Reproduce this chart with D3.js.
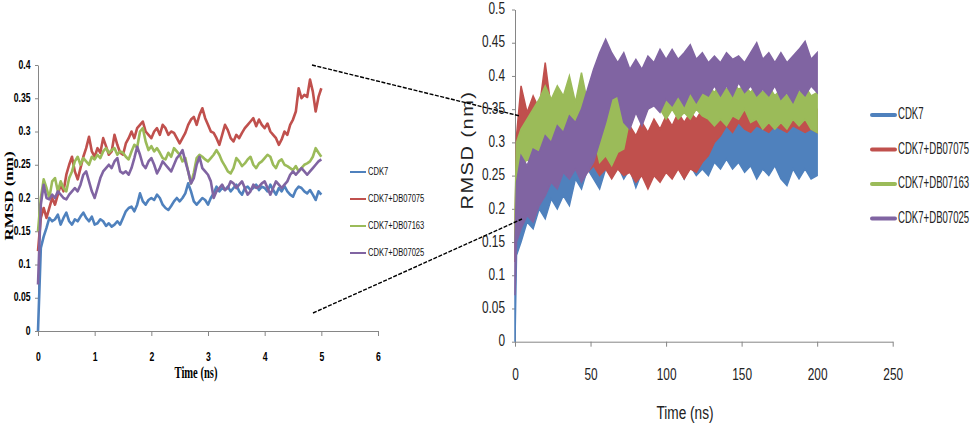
<!DOCTYPE html>
<html><head><meta charset="utf-8">
<script src="https://cdn.jsdelivr.net/npm/d3@7"></script>
<style>body{margin:0;background:#fff} svg{display:block}</style>
</head><body><svg id="c" width="974" height="428"></svg>
<script>
// ---------- data ----------
const seriesNames = ["CDK7","CDK7+DB07075","CDK7+DB07163","CDK7+DB07025"];
const seriesColors = ["#4F81BD","#C0504D","#9BBB59","#8064A2"];

// Left (inset) chart: 0-5 ns
const leftSpan = 5;
const leftBlue = [0.0,
 0.125,0.142,0.155,0.17,0.165, 0.168,0.175,0.16,0.17,0.178, 0.165,0.16,0.168,0.165,0.172, 0.178,0.17,0.165,0.172,0.16,
 0.162,0.168,0.165,0.158,0.162, 0.157,0.16,0.165,0.16,0.17, 0.18,0.185,0.187,0.18,0.19, 0.207,0.195,0.19,0.197,0.2,
 0.197,0.205,0.2,0.19,0.185, 0.182,0.188,0.195,0.2,0.195, 0.2,0.207,0.222,0.21,0.195, 0.19,0.195,0.2,0.197,0.19,
 0.2,0.207,0.217,0.21,0.215, 0.212,0.217,0.21,0.215,0.22, 0.21,0.205,0.215,0.217,0.212, 0.215,0.22,0.212,0.217,0.215,
 0.21,0.22,0.212,0.205,0.215, 0.21,0.218,0.21,0.205,0.202, 0.212,0.217,0.215,0.21,0.207, 0.212,0.205,0.197,0.21,0.205];
const leftRed = [0.12,
 0.17,0.185,0.17,0.185,0.2, 0.19,0.205,0.22,0.21,0.235, 0.25,0.262,0.24,0.228,0.245, 0.262,0.275,0.292,0.27,0.262,
 0.275,0.268,0.29,0.278,0.265, 0.27,0.295,0.28,0.268,0.265, 0.282,0.29,0.3,0.29,0.305, 0.31,0.315,0.3,0.295,0.29,
 0.3,0.305,0.295,0.31,0.305, 0.295,0.3,0.298,0.29,0.282, 0.29,0.298,0.31,0.318,0.322, 0.31,0.325,0.335,0.32,0.31,
 0.3,0.298,0.29,0.28,0.295, 0.31,0.302,0.29,0.285,0.295, 0.29,0.298,0.305,0.31,0.315, 0.32,0.308,0.318,0.31,0.305,
 0.312,0.3,0.295,0.29,0.28, 0.288,0.3,0.295,0.31,0.318, 0.33,0.365,0.35,0.355,0.352, 0.378,0.36,0.33,0.352,0.365];
const leftGreen = [0.15,
 0.2,0.228,0.215,0.2,0.225, 0.23,0.21,0.225,0.215,0.21, 0.23,0.24,0.255,0.262,0.25, 0.26,0.255,0.25,0.262,0.258,
 0.265,0.26,0.27,0.275,0.268, 0.272,0.275,0.265,0.27,0.268, 0.262,0.258,0.27,0.28,0.276, 0.3,0.305,0.285,0.272,0.278,
 0.27,0.275,0.268,0.26,0.258, 0.268,0.262,0.275,0.27,0.265, 0.255,0.26,0.24,0.222,0.238, 0.26,0.265,0.262,0.258,0.255,
 0.26,0.265,0.272,0.265,0.255, 0.248,0.24,0.237,0.245,0.26, 0.255,0.248,0.252,0.258,0.262, 0.25,0.245,0.252,0.255,0.26,
 0.265,0.262,0.25,0.245,0.255, 0.258,0.25,0.248,0.245,0.242, 0.248,0.24,0.245,0.25,0.252, 0.255,0.262,0.275,0.268,0.262];
const leftPurple = [0.07,
 0.19,0.22,0.2,0.198,0.205, 0.2,0.21,0.205,0.2,0.198, 0.205,0.21,0.215,0.21,0.22, 0.235,0.24,0.225,0.21,0.2,
 0.215,0.23,0.24,0.245,0.25, 0.245,0.255,0.26,0.24,0.237, 0.24,0.235,0.245,0.26,0.277, 0.265,0.25,0.245,0.255,0.26,
 0.25,0.237,0.245,0.255,0.25, 0.245,0.24,0.25,0.26,0.265, 0.272,0.255,0.24,0.222,0.23, 0.25,0.262,0.245,0.24,0.235,
 0.225,0.2,0.21,0.215,0.22, 0.212,0.215,0.225,0.222,0.215, 0.22,0.225,0.215,0.205,0.21, 0.22,0.215,0.217,0.222,0.225,
 0.215,0.205,0.215,0.225,0.22, 0.215,0.22,0.225,0.235,0.24, 0.235,0.24,0.245,0.24,0.235, 0.24,0.245,0.25,0.255,0.258];
const leftXTicks = [0,1,2,3,4,5,6];
const leftYTicks = [0,0.05,0.1,0.15,0.2,0.25,0.3,0.35,0.4];
const leftYLabels = ["0","0.05","0.1","0.15","0.2","0.25","0.3","0.35","0.4"];

// Right (main) chart: 0-200 ns, fluctuation band (low / high envelope) per series
const rightTime = [0,1,4,8,12,16,20,24,28,32,36,40,44,48,52,56,60,64,68,72,76,80,84,88,92,96,100,
 104,108,112,116,120,124,128,132,136,140,144,148,152,156,160,164,168,172,176,180,184,188,192,196,200];
const blueLo = [0,0.13,0.15,0.18,0.17,0.2,0.185,0.215,0.2,0.22,0.205,0.245,0.23,0.26,0.245,0.23,0.26,0.25,0.265,0.245,0.26,0.232,0.255,0.24,0.262,0.245,0.265,
 0.25,0.265,0.245,0.265,0.25,0.26,0.25,0.27,0.26,0.275,0.26,0.27,0.255,0.265,0.245,0.26,0.25,0.265,0.245,0.235,0.26,0.245,0.26,0.245,0.25];
const blueHi = [0.07,0.2,0.23,0.215,0.245,0.235,0.265,0.25,0.27,0.26,0.285,0.27,0.29,0.275,0.295,0.28,0.295,0.28,0.29,0.28,0.295,0.28,0.29,0.285,0.295,0.28,0.295,
 0.285,0.3,0.29,0.305,0.29,0.3,0.31,0.335,0.32,0.34,0.33,0.345,0.335,0.34,0.325,0.335,0.32,0.33,0.32,0.33,0.325,0.335,0.32,0.33,0.32];
const redLo = [0.12,0.2,0.27,0.285,0.3,0.285,0.3,0.275,0.285,0.265,0.275,0.26,0.27,0.255,0.265,0.25,0.26,0.245,0.26,0.25,0.255,0.24,0.25,0.23,0.25,0.24,0.255,
 0.245,0.26,0.245,0.26,0.255,0.27,0.28,0.3,0.31,0.325,0.315,0.33,0.32,0.315,0.325,0.32,0.315,0.325,0.32,0.315,0.325,0.32,0.315,0.32,0.315];
const redHi = [0.16,0.31,0.385,0.345,0.37,0.35,0.42,0.35,0.365,0.345,0.36,0.345,0.36,0.35,0.365,0.37,0.345,0.315,0.33,0.305,0.325,0.31,0.33,0.315,0.335,0.32,0.34,
 0.325,0.345,0.33,0.345,0.335,0.35,0.345,0.35,0.345,0.355,0.35,0.36,0.355,0.35,0.36,0.355,0.35,0.36,0.355,0.36,0.355,0.35,0.36,0.355,0.35];
const greenLo = [0.15,0.24,0.26,0.275,0.265,0.245,0.27,0.285,0.29,0.305,0.3,0.315,0.305,0.3,0.31,0.27,0.28,0.265,0.285,0.29,0.335,0.345,0.335,0.35,0.36,0.35,0.335,
 0.35,0.335,0.345,0.335,0.35,0.34,0.335,0.325,0.335,0.325,0.34,0.335,0.35,0.33,0.335,0.32,0.33,0.32,0.33,0.32,0.335,0.325,0.335,0.32,0.315];
const greenHi = [0.2,0.3,0.32,0.335,0.35,0.365,0.385,0.365,0.385,0.37,0.4,0.36,0.405,0.36,0.375,0.355,0.375,0.395,0.375,0.39,0.37,0.385,0.37,0.39,0.38,0.395,0.38,
 0.39,0.38,0.395,0.38,0.39,0.38,0.385,0.375,0.39,0.38,0.39,0.38,0.385,0.375,0.39,0.375,0.385,0.37,0.38,0.37,0.385,0.375,0.385,0.37,0.375];
const purpleLo = [0.07,0.15,0.17,0.19,0.18,0.205,0.22,0.24,0.23,0.255,0.245,0.26,0.24,0.255,0.27,0.3,0.33,0.365,0.37,0.33,0.32,0.345,0.325,0.35,0.355,0.345,0.365,
 0.355,0.37,0.355,0.375,0.36,0.375,0.37,0.385,0.37,0.385,0.37,0.39,0.375,0.385,0.37,0.38,0.37,0.385,0.365,0.375,0.36,0.38,0.37,0.385,0.375];
const purpleHi = [0.15,0.24,0.28,0.265,0.29,0.285,0.31,0.3,0.325,0.315,0.34,0.33,0.35,0.38,0.41,0.435,0.455,0.435,0.42,0.435,0.41,0.425,0.41,0.43,0.42,0.44,0.425,
 0.44,0.425,0.435,0.447,0.425,0.435,0.42,0.43,0.42,0.435,0.425,0.43,0.42,0.435,0.45,0.425,0.435,0.42,0.435,0.42,0.43,0.44,0.452,0.425,0.435];
const rightXTicks = [0,50,100,150,200,250];
const rightYTicks = [0,0.05,0.1,0.15,0.2,0.25,0.3,0.35,0.4,0.45,0.5];
const rightYLabels = ["0","0.05","0.1","0.15","0.2","0.25","0.3","0.35","0.4","0.45","0.5"];

// ---------- drawing ----------
const svg = d3.select("#c");
const AXIS = "#868686";
function styleAxis(g){
  g.selectAll("path.domain").attr("stroke", AXIS);
  g.selectAll(".tick line").attr("stroke", AXIS);
}

// ===== Left chart =====
const xL = d3.scaleLinear().domain([0,6]).range([38,378]);
const yL = d3.scaleLinear().domain([0,0.4]).range([331,65]);
const leftSeries = [leftBlue,leftRed,leftGreen,leftPurple];
const lineL = d3.line().x((d,i,arr)=>xL(i*leftSpan/(arr.length-1))).y(d=>yL(d));

const gL = svg.append("g");
const axLY = gL.append("g").attr("transform","translate(38,0)")
  .call(d3.axisLeft(yL).tickValues(leftYTicks).tickFormat((d,i)=>leftYLabels[i]).tickSize(3).tickSizeOuter(0));
const axLX = gL.append("g").attr("transform","translate(0,331)")
  .call(d3.axisBottom(xL).tickValues(leftXTicks).tickFormat(d=>String(d)).tickSize(5).tickSizeOuter(0));
[axLY,axLX].forEach(styleAxis);
axLY.selectAll("text").attr("x",null).attr("dy",null)
  .attr("transform","translate(-7.5,0) scale(0.72,1)")
  .attr("dominant-baseline","middle")
  .style("font-family","'Liberation Sans',Arial,sans-serif").style("font-weight","bold").style("font-size","12px").attr("fill","#000");
axLX.selectAll("text").attr("y",null).attr("dy",null)
  .attr("transform","translate(0,29.5) scale(0.72,1)")
  .style("font-family","'Liberation Sans',Arial,sans-serif").style("font-weight","bold").style("font-size","12px").attr("fill","#000");

leftSeries.forEach((s,k)=>{
  gL.append("path").datum(s).attr("d",(d)=>lineL(d)).attr("fill","none")
    .attr("stroke",seriesColors[k]).attr("stroke-width",2.6).attr("stroke-linejoin","round");
});

gL.append("text").attr("transform","translate(196,378) scale(0.66,1)").attr("text-anchor","middle")
  .style("font-family","'Liberation Serif','Times New Roman',serif").style("font-weight","bold").style("font-size","16px")
  .text("Time (ns)");
gL.append("text").attr("transform","translate(13,196) rotate(-90) scale(1,0.72)").attr("text-anchor","middle")
  .style("font-family","'Liberation Serif','Times New Roman',serif").style("font-weight","bold").style("font-size","17px")
  .text("RMSD (nm)");

const legL = gL.append("g");
seriesNames.forEach((n,k)=>{
  const y = 172 + k*27;
  legL.append("line").attr("x1",350).attr("x2",366).attr("y1",y).attr("y2",y).attr("stroke",seriesColors[k]).attr("stroke-width",2);
  legL.append("text").attr("transform",`translate(368,${y}) scale(0.66,1)`).attr("dominant-baseline","middle")
    .style("font-family","'Liberation Sans',Arial,sans-serif").style("font-size","11.5px").attr("fill","#111").text(n);
});

// ===== Right chart =====
const xR = d3.scaleLinear().domain([0,250]).range([515,892.7]);
const yR = d3.scaleLinear().domain([0,0.5]).range([341.7,9.5]);
const gR = svg.append("g");
const axRY = gR.append("g").attr("transform","translate(515,0)")
  .call(d3.axisLeft(yR).tickValues(rightYTicks).tickFormat((d,i)=>rightYLabels[i]).tickSize(3).tickSizeOuter(0));
const axRX = gR.append("g").attr("transform","translate(0,341.7)")
  .call(d3.axisBottom(xR).tickValues(rightXTicks).tickFormat(d=>String(d)).tickSize(5).tickSizeOuter(0));
[axRY,axRX].forEach(styleAxis);
axRY.selectAll("text").attr("x",null).attr("dy",null)
  .attr("transform","translate(-10,0) scale(0.74,1)").attr("dominant-baseline","middle")
  .style("font-family","'Liberation Sans',Arial,sans-serif").style("font-size","16px").attr("fill","#222");
axRX.selectAll("text").attr("y",null).attr("dy",null)
  .attr("transform","translate(0,38.5) scale(0.72,1)")
  .style("font-family","'Liberation Sans',Arial,sans-serif").style("font-size","16.5px").attr("fill","#222");

const bands = [[blueLo,blueHi],[redLo,redHi],[greenLo,greenHi],[purpleLo,purpleHi]];
const areaR = d3.area().x((d,i)=>xR(rightTime[i])).y0(d=>yR(d[0])).y1(d=>yR(d[1]));
bands.forEach((b,k)=>{
  const pts = b[0].map((v,i)=>[v,b[1][i]]);
  gR.append("path").datum(pts).attr("d",areaR).attr("fill",seriesColors[k])
    .attr("stroke",seriesColors[k]).attr("stroke-width",1.5).attr("stroke-linejoin","miter");
});

gR.append("text").attr("transform","translate(685,419) scale(0.72,1)").attr("text-anchor","middle")
  .style("font-family","'Liberation Sans',Arial,sans-serif").style("font-size","19px").attr("fill","#222").text("Time (ns)");
gR.append("text").attr("transform","translate(473,150) rotate(-90) scale(1,0.85)").attr("text-anchor","middle")
  .style("font-family","'Liberation Sans',Arial,sans-serif").style("font-size","20px").style("letter-spacing","1.5px").attr("fill","#222")
  .text("RMSD (nm)");

const legR = gR.append("g");
seriesNames.forEach((n,k)=>{
  const y = 115 + k*34.5;
  legR.append("line").attr("x1",872).attr("x2",895).attr("y1",y).attr("y2",y).attr("stroke",seriesColors[k]).attr("stroke-width",4).attr("stroke-linecap","round");
  legR.append("text").attr("transform",`translate(898,${y}) scale(0.6,1)`).attr("dominant-baseline","middle")
    .style("font-family","'Liberation Sans',Arial,sans-serif").style("font-size","16px").attr("fill","#222").text(n);
});

// ===== zoom connector lines =====
const conn = [[312,65,520,116],[313,313,522,219]];
conn.forEach(c=>{
  svg.append("line").attr("x1",c[0]).attr("y1",c[1]).attr("x2",c[2]).attr("y2",c[3])
    .attr("stroke","#000").attr("stroke-width",1.4).attr("stroke-dasharray","4,1.5");
});
</script></body></html>
